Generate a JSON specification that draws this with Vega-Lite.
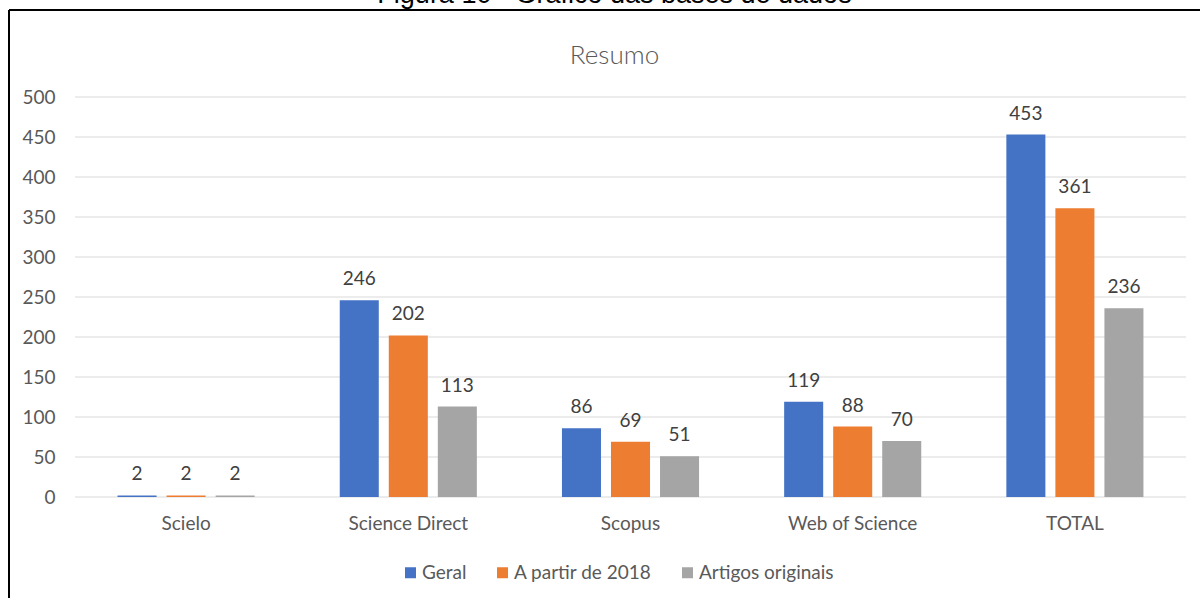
{
  "$schema": "https://vega.github.io/schema/vega-lite/v6.json",
  "width": 1191,
  "height": 588,
  "autosize": {"type": "none"},
  "padding": {"left": 9, "top": 10, "right": 0, "bottom": 0},
  "background": "white",
  "config": {
    "view": {"stroke": "black", "strokeWidth": 2, "strokeDash": [1191, 1779, 588, 0]},
    "font": "Lato"
  },
  "title": {
    "text": "Figura 10 - Gráfico das bases de dados",
    "subtitle": "Resumo",
    "anchor": "middle",
    "frame": "group",
    "orient": "top",
    "offset": -60,
    "dx": 10,
    "font": "Liberation Sans",
    "fontSize": 27,
    "fontWeight": "normal",
    "color": "black",
    "subtitleFont": "Lato",
    "subtitleFontSize": 26,
    "subtitleFontWeight": 300,
    "subtitleColor": "#595959",
    "subtitlePadding": 34
  },
  "datasets": {
    "bars": [
      {"base": "Scielo", "serie": "Geral", "valor": 2},
      {"base": "Scielo", "serie": "A partir de 2018", "valor": 2},
      {"base": "Scielo", "serie": "Artigos originais", "valor": 2},
      {"base": "Science Direct", "serie": "Geral", "valor": 246},
      {"base": "Science Direct", "serie": "A partir de 2018", "valor": 202},
      {"base": "Science Direct", "serie": "Artigos originais", "valor": 113},
      {"base": "Scopus", "serie": "Geral", "valor": 86},
      {"base": "Scopus", "serie": "A partir de 2018", "valor": 69},
      {"base": "Scopus", "serie": "Artigos originais", "valor": 51},
      {"base": "Web of Science", "serie": "Geral", "valor": 119},
      {"base": "Web of Science", "serie": "A partir de 2018", "valor": 88},
      {"base": "Web of Science", "serie": "Artigos originais", "valor": 70},
      {"base": "TOTAL", "serie": "Geral", "valor": 453},
      {"base": "TOTAL", "serie": "A partir de 2018", "valor": 361},
      {"base": "TOTAL", "serie": "Artigos originais", "valor": 236}
    ],
    "ticks": [
      {"v": 0}, {"v": 50}, {"v": 100}, {"v": 150}, {"v": 200}, {"v": 250},
      {"v": 300}, {"v": 350}, {"v": 400}, {"v": 450}, {"v": 500}
    ]
  },
  "layer": [
    {
      "data": {"name": "ticks"},
      "mark": {"type": "rule", "color": "#d9d9d9", "strokeWidth": 1.2},
      "encoding": {
        "y": {
          "field": "v", "type": "quantitative",
          "scale": {"domain": [0, 500], "range": [487, 87], "nice": false},
          "axis": {"orient": "left", "offset": -66, "title": null, "domain": false, "ticks": false, "grid": false, "values": [0, 50, 100, 150, 200, 250, 300, 350, 400, 450, 500], "labelPadding": 20, "labelFontSize": 19, "labelColor": "#595959", "labelFont": "Lato"}
        },
        "x": {"datum": 0, "type": "quantitative", "scale": {"domain": [0, 1], "range": [66, 1177], "nice": false, "zero": false}, "axis": null},
        "x2": {"datum": 1}
      }
    },
    {
      "data": {"name": "bars"},
      "layer": [
        {
          "mark": {"type": "bar"},
          "encoding": {
            "x": {
              "field": "base", "type": "nominal",
              "sort": ["Scielo", "Science Direct", "Scopus", "Web of Science", "TOTAL"],
              "scale": {"range": [66, 1177], "paddingInner": 0.383, "paddingOuter": 0.1915},
              "axis": {"orient": "bottom", "offset": -101, "title": null, "domain": false, "ticks": false, "labelAngle": 0, "labelPadding": 17, "labelFontSize": 19, "labelColor": "#595959", "labelFont": "Lato"}
            },
            "xOffset": {
              "field": "serie", "type": "nominal",
              "sort": ["Geral", "A partir de 2018", "Artigos originais"],
              "scale": {"paddingInner": 0.204, "paddingOuter": 0}
            },
            "y": {
              "field": "valor", "type": "quantitative",
              "scale": {"domain": [0, 500], "range": [487, 87], "nice": false},
              "axis": {"orient": "left", "offset": -66, "title": null, "domain": false, "ticks": false, "grid": false, "values": [0, 50, 100, 150, 200, 250, 300, 350, 400, 450, 500], "labelPadding": 20, "labelFontSize": 19, "labelColor": "#595959", "labelFont": "Lato"}
            },
            "color": {
              "field": "serie", "type": "nominal",
              "sort": ["Geral", "A partir de 2018", "Artigos originais"],
              "scale": {"domain": ["Geral", "A partir de 2018", "Artigos originais"], "range": ["#4472C4", "#ED7D31", "#A5A5A5"]},
              "legend": {"title": null, "orient": "none", "direction": "horizontal", "legendX": 392, "legendY": 553, "symbolType": "square", "symbolSize": 121, "symbolStrokeWidth": 0, "labelFontSize": 19, "labelColor": "#595959", "labelFont": "Lato", "labelOffset": 2, "columnPadding": 26}
            }
          }
        },
        {
          "mark": {"type": "text", "baseline": "alphabetic", "dy": -15, "fontSize": 19, "color": "#404040", "font": "Lato"},
          "encoding": {
            "x": {"field": "base", "type": "nominal", "sort": ["Scielo", "Science Direct", "Scopus", "Web of Science", "TOTAL"]},
            "xOffset": {"field": "serie", "type": "nominal", "sort": ["Geral", "A partir de 2018", "Artigos originais"]},
            "y": {"field": "valor", "type": "quantitative"},
            "text": {"field": "valor", "type": "quantitative"}
          }
        }
      ]
    }
  ],
  "resolve": {"scale": {"x": "independent"}, "axis": {"x": "independent"}}
}
